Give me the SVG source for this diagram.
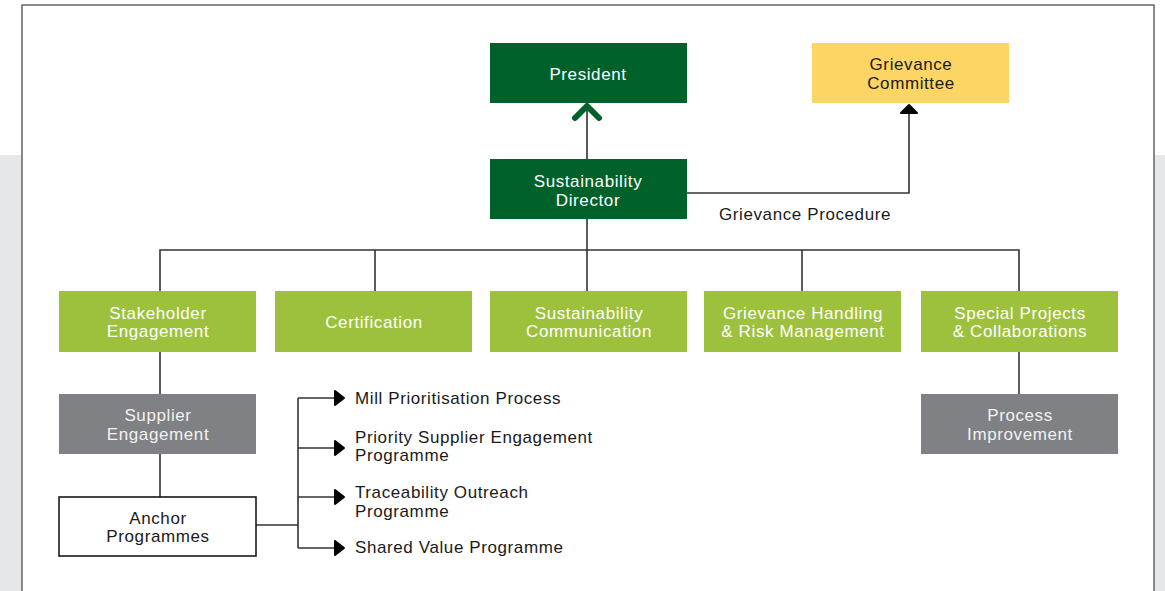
<svg xmlns="http://www.w3.org/2000/svg" width="1165" height="591" viewBox="0 0 1165 591">
  <style>
    .t { font-family: "Liberation Sans", Arial, sans-serif; font-size: 17px; letter-spacing: 0.6px; }
    .c { text-anchor: middle; }
    .w { fill: #ffffff; }
    .wg { fill: #f2f2f2; }
    .k { fill: #1a1a1a; }
    .dg { fill: #00612A; }
    .lg { fill: #9DC13C; }
    .yl { fill: #FDD565; }
    .gr { fill: #808184; }
    .ln { fill: none; stroke: #333333; stroke-width: 1.6; }
    .ah { fill: #000000; stroke: #000000; stroke-width: 2; stroke-linejoin: round; }
  </style>
  <defs>
    <path id="smallArrow" d="M-9,-7 L0,0 L-9,7 Z"/>
  </defs>

  <!-- background -->
  <rect x="0" y="0" width="1165" height="591" fill="#ffffff"/>
  <rect x="0" y="155" width="1165" height="436" fill="#E6E7E8"/>
  <rect x="22" y="5" width="1132" height="620" fill="#ffffff" stroke="#6d6d6d" stroke-width="1.6"/>

  <!-- connectors -->
  <g id="connectors">
    <!-- Director to President -->
    <line x1="587" y1="159" x2="587" y2="108" stroke="#58595B" stroke-width="2"/>
    <polyline points="575,118 587,106 599,118" fill="none" stroke="#00612A" stroke-width="6" stroke-linecap="round" stroke-linejoin="round"/>
    <!-- Grievance procedure -->
    <polyline class="ln" points="687,193 909,193 909,113"/>
    <path class="ah" d="M901,113 L909,105 L917,113 Z"/>
    <!-- bus -->
    <line class="ln" x1="587" y1="219" x2="587" y2="250"/>
    <polyline class="ln" points="160,291 160,250 1019,250 1019,291"/>
    <line class="ln" x1="375" y1="250" x2="375" y2="291"/>
    <line class="ln" x1="587" y1="250" x2="587" y2="291"/>
    <line class="ln" x1="802" y1="250" x2="802" y2="291"/>
    <!-- vertical chains -->
    <line class="ln" x1="160" y1="352" x2="160" y2="394"/>
    <line class="ln" x1="160" y1="454" x2="160" y2="497"/>
    <line class="ln" x1="1019" y1="352" x2="1019" y2="394"/>
    <!-- anchor branches -->
    <polyline class="ln" points="256,525 298,525"/>
    <line class="ln" x1="298" y1="398" x2="298" y2="548"/>
    <line class="ln" x1="298" y1="398" x2="336" y2="398"/>
    <line class="ln" x1="298" y1="448" x2="336" y2="448"/>
    <line class="ln" x1="298" y1="497" x2="336" y2="497"/>
    <line class="ln" x1="298" y1="548" x2="336" y2="548"/>
    <use href="#smallArrow" class="ah" x="344" y="398"/>
    <use href="#smallArrow" class="ah" x="344" y="448"/>
    <use href="#smallArrow" class="ah" x="344" y="497"/>
    <use href="#smallArrow" class="ah" x="344" y="548"/>
  </g>

  <!-- nodes -->
  <g id="president">
    <rect class="dg" x="490" y="43" width="197" height="60"/>
    <text class="t c w" x="588" y="80">President</text>
  </g>
  <g id="grievance-committee">
    <rect class="yl" x="812" y="43" width="197" height="60"/>
    <text class="t c k" x="911" y="70">Grievance</text>
    <text class="t c k" x="911" y="89">Committee</text>
  </g>
  <g id="sustainability-director">
    <rect class="dg" x="490" y="159" width="197" height="60"/>
    <text class="t c w" x="588" y="187">Sustainability</text>
    <text class="t c w" x="588" y="206">Director</text>
  </g>
  <g id="grievance-procedure-label">
    <text class="t k" x="719" y="220">Grievance Procedure</text>
  </g>

  <g id="stakeholder-engagement">
    <rect class="lg" x="59" y="291" width="197" height="61"/>
    <text class="t c w" x="158" y="319">Stakeholder</text>
    <text class="t c w" x="158" y="337">Engagement</text>
  </g>
  <g id="certification">
    <rect class="lg" x="275" y="291" width="197" height="61"/>
    <text class="t c w" x="374" y="328">Certification</text>
  </g>
  <g id="sustainability-communication">
    <rect class="lg" x="490" y="291" width="197" height="61"/>
    <text class="t c w" x="589" y="319">Sustainability</text>
    <text class="t c w" x="589" y="337">Communication</text>
  </g>
  <g id="grievance-handling">
    <rect class="lg" x="704" y="291" width="197" height="61"/>
    <text class="t c w" x="803" y="319">Grievance Handling</text>
    <text class="t c w" x="803" y="337">&amp; Risk Management</text>
  </g>
  <g id="special-projects">
    <rect class="lg" x="921" y="291" width="197" height="61"/>
    <text class="t c w" x="1020" y="319">Special Projects</text>
    <text class="t c w" x="1020" y="337">&amp; Collaborations</text>
  </g>

  <g id="supplier-engagement">
    <rect class="gr" x="59" y="394" width="197" height="60"/>
    <text class="t c wg" x="158" y="421">Supplier</text>
    <text class="t c wg" x="158" y="440">Engagement</text>
  </g>
  <g id="process-improvement">
    <rect class="gr" x="921" y="394" width="197" height="60"/>
    <text class="t c wg" x="1020" y="421">Process</text>
    <text class="t c wg" x="1020" y="440">Improvement</text>
  </g>
  <g id="anchor-programmes">
    <rect x="59" y="497" width="197" height="59" fill="#ffffff" stroke="#1a1a1a" stroke-width="1.6"/>
    <text class="t c k" x="158" y="524">Anchor</text>
    <text class="t c k" x="158" y="542">Programmes</text>
  </g>

  <g id="mill-prioritisation">
    <text class="t k" x="355" y="404">Mill Prioritisation Process</text>
  </g>
  <g id="priority-supplier">
    <text class="t k" x="355" y="443">Priority Supplier Engagement</text>
    <text class="t k" x="355" y="461">Programme</text>
  </g>
  <g id="traceability-outreach">
    <text class="t k" x="355" y="498">Traceability Outreach</text>
    <text class="t k" x="355" y="517">Programme</text>
  </g>
  <g id="shared-value">
    <text class="t k" x="355" y="553">Shared Value Programme</text>
  </g>
</svg>
